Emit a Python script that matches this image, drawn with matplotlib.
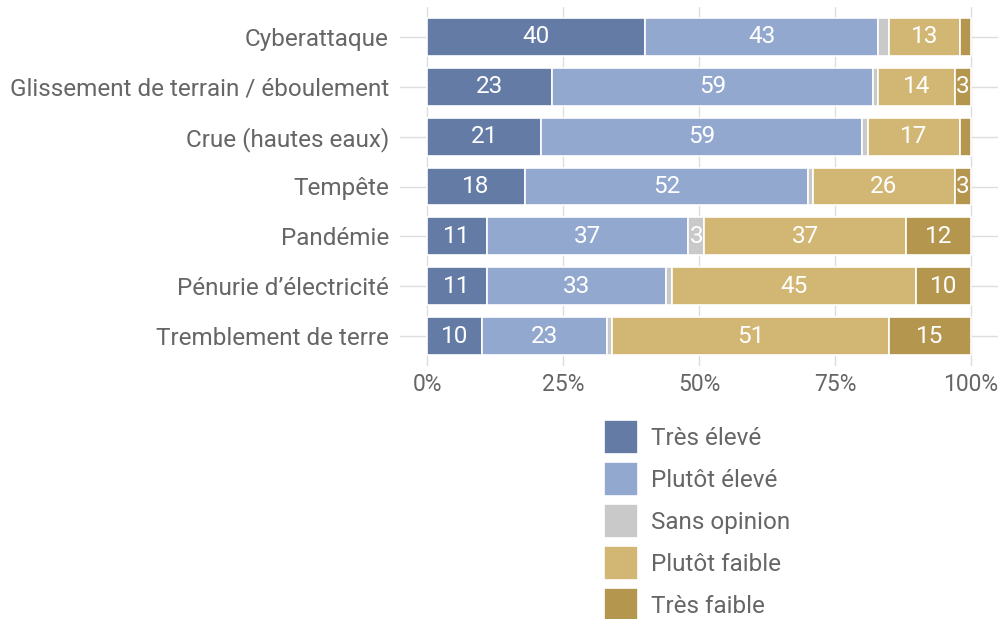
import matplotlib.pyplot as plt
import numpy as np

# ========== données ==========
categories = ["Cyberattaque", "Glissement de terrain / éboulement", "Crue (hautes eaux)",
              "Tempête", "Pandémie", "Pénurie d’électricité", "Tremblement de terre"]
tres_eleve = [40, 23, 21, 18, 11, 11, 10]
plutot_eleve = [43, 59, 59, 52, 37, 33, 23]
sans_opinion = [2, 1, 1, 1, 3, 1, 1]
plutot_faible = [13, 14, 17, 26, 37, 45, 51]
tres_faible = [2, 3, 2, 3, 12, 10, 15]

series_names = ["Très élevé", "Plutôt élevé", "Sans opinion", "Plutôt faible", "Très faible"]
colors = ["#637ba5", "#92a8cf", "#c9c9c9", "#d2b673", "#b4964e"]
x_ticks = [0, 25, 50, 75, 100]
x_ticklabels = ["0%", "25%", "50%", "75%", "100%"]

plt.rcParams['font.family'] = ['Roboto', 'DejaVu Sans']
text_col = "#666666"
fs = 17.5

fig = plt.figure(figsize=(9.98, 6.19), dpi=100)
ax = fig.add_axes([400 / 998, 1 - 366 / 619, 598 / 998, 359 / 619])

series = [tres_eleve, plutot_eleve, sans_opinion, plutot_faible, tres_faible]
y = np.arange(len(categories))[::-1]
left = np.zeros(len(categories))
for name, vals, col in zip(series_names, series, colors):
    vals = np.array(vals, dtype=float)
    ax.barh(y, vals, left=left, height=0.76, color=col, edgecolor="white",
            linewidth=1.2, label=name, zorder=3)
    for yi, l, v in zip(y, left, vals):
        if v >= 3:
            ax.text(l + v / 2, yi, f"{int(v)}", ha="center", va="center",
                    color="white", fontsize=fs, zorder=4)
    left += vals

ax.set_xlim(-5, 105)
ax.set_ylim(-0.6, len(categories) - 0.4)
ax.set_xticks(x_ticks)
ax.set_xticklabels(x_ticklabels)
ax.set_yticks(y)
ax.set_yticklabels(categories)
ax.tick_params(axis="both", length=0, labelsize=fs, labelcolor=text_col)
ax.tick_params(axis="x", labelsize=16.5, pad=5)
ax.tick_params(axis="y", pad=8)
ax.grid(True, color="#dddddd", linewidth=1, zorder=0)
ax.set_axisbelow(True)
for s in ax.spines.values():
    s.set_visible(False)

leg = fig.legend(loc="upper left", bbox_to_anchor=(604 / 998, 1 - 420 / 619),
                 frameon=False, fontsize=fs, handlelength=1.4, handleheight=1.78,
                 labelspacing=0.33, handletextpad=0.55, borderpad=0, borderaxespad=0)
for t in leg.get_texts():
    t.set_color(text_col)

fig.savefig("out.png", dpi=100)
